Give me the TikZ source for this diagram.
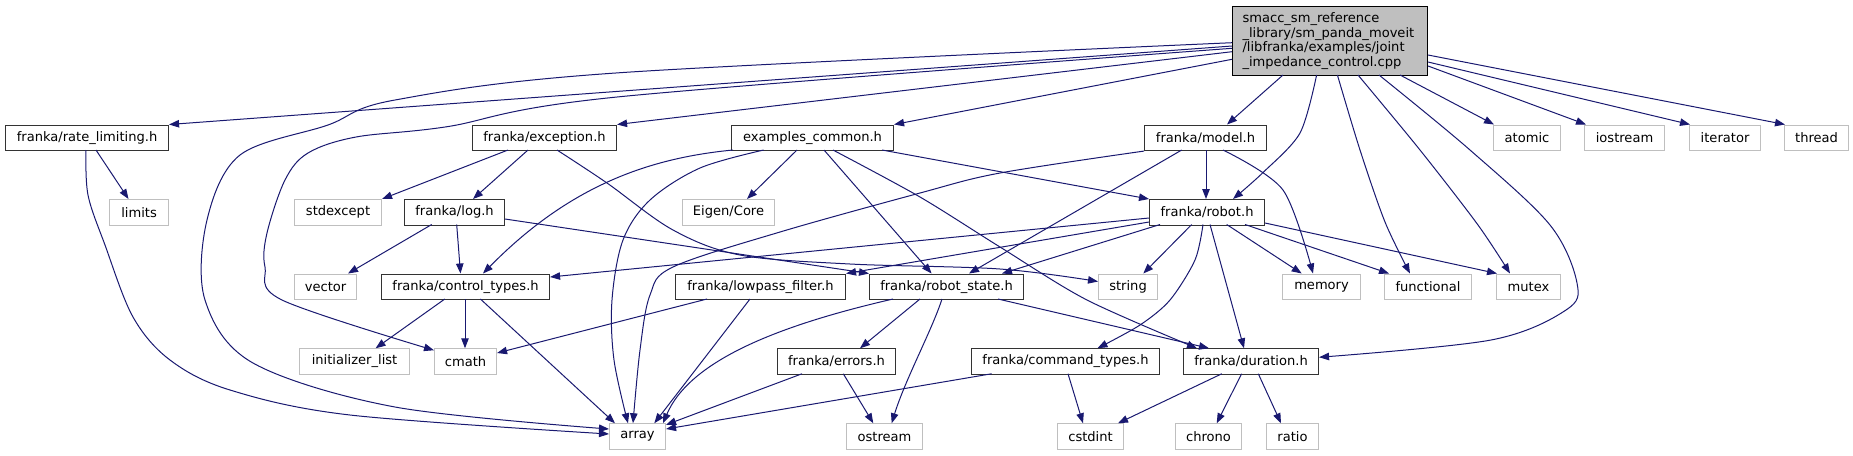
\documentclass[tikz,border=0pt]{standalone}
\usepackage{fontspec}
\setmainfont{DejaVu Sans}
\usetikzlibrary{arrows.meta,calc}
\definecolor{edgeblue}{HTML}{191970}
\definecolor{sysgray}{HTML}{BFBFBF}
\definecolor{docblk}{HTML}{333333}
\definecolor{mainfill}{HTML}{BFBFBF}
\begin{document}
\begin{tikzpicture}[x=0.75pt,y=-0.75pt,
  box/.style={anchor=north west, inner sep=0pt, minimum height=19.125pt, line width=0.8pt,
    font=\fontsize{9.8}{11}\selectfont, text=black},
  doc/.style={box, draw=docblk, fill=white},
  sys/.style={box, draw=sysgray, fill=white},
  bw/.style={minimum width=#1*0.75pt},
  mainnode/.style={anchor=north west, draw=black, fill=mainfill, line width=0.8pt,
    minimum width=146.25pt, minimum height=51.75pt, text width=131.25pt,
    inner xsep=7.5pt, inner ysep=0pt, align=left, font=\fontsize{9.8}{11.1}\selectfont},
  dep/.style={draw=edgeblue, line width=0.75pt, -{Triangle[length=7.5pt,width=5.6pt]}}
]
\useasboundingbox (0,0) rectangle (1853,455);

% ---------- nodes ----------
\node[mainnode] (T) at (1232,6) {smacc\_sm\_reference\\ \_library/sm\_panda\_moveit\\/libfranka/examples/joint\\ \_impedance\_control.cpp};

\node[doc,bw=163] (rate) at (5,124.5) {franka/rate\_limiting.h};
\node[doc,bw=144] (exc) at (472,124.5) {franka/exception.h};
\node[doc,bw=162] (ec) at (731,124.5) {examples\_common.h};
\node[doc,bw=122] (model) at (1144,124.5) {franka/model.h};
\node[sys,bw=67] (atomic) at (1493,124.5) {atomic};
\node[sys,bw=80] (iostream) at (1584,124.5) {iostream};
\node[sys,bw=71] (iterator) at (1689,124.5) {iterator};
\node[sys,bw=64] (thread) at (1784,124.5) {thread};

\node[sys,bw=59] (limits) at (109,199) {limits};
\node[sys,bw=87] (stdexcept) at (294,199) {stdexcept};
\node[doc,bw=100] (log) at (404,199) {franka/log.h};
\node[sys,bw=92] (eigen) at (682,199) {Eigen/Core};
\node[doc,bw=115] (robot) at (1149,199) {franka/robot.h};

\node[sys,bw=62] (vector) at (294,273.5) {vector};
\node[doc,bw=168] (ctypes) at (381,273.5) {franka/control\_types.h};
\node[doc,bw=170] (lowpass) at (675,273.5) {franka/lowpass\_filter.h};
\node[doc,bw=154] (rstate) at (869,273.5) {franka/robot\_state.h};
\node[sys,bw=59] (string) at (1098,273.5) {string};
\node[sys,bw=78] (memory) at (1282,273.5) {memory};
\node[sys,bw=87] (functional) at (1384,273.5) {functional};
\node[sys,bw=64] (mutex) at (1496,273.5) {mutex};

\node[sys,bw=110] (initlist) at (299,348.25) {initializer\_list};
\node[sys,bw=62] (cmath) at (434,348.25) {cmath};
\node[doc,bw=118] (errors) at (777,348.25) {franka/errors.h};
\node[doc,bw=188] (cmdtypes) at (971,348.25) {franka/command\_types.h};
\node[doc,bw=135] (duration) at (1183,348.25) {franka/duration.h};

\node[sys,bw=56] (array) at (609,423.25) {array};
\node[sys,bw=76] (ostream) at (846,423.25) {ostream};
\node[sys,bw=66] (cstdint) at (1057,423.25) {cstdint};
\node[sys,bw=66] (chrono) at (1175,423.25) {chrono};
\node[sys,bw=52] (ratio) at (1266,423.25) {ratio};

% ---------- edges from the main file ----------
\draw[dep] ($(T.north west)+(0,40)$) -- (rate.north east);
\draw[dep] plot[smooth,tension=0.55] coordinates {($(T.north west)+(0,36.7)$) (620,72.7) (395,100) (328,125) (240,155) (207,220) (205,300) (253,363) (395,407) ($(array.north west)+(0,5.75)$)};
\draw[dep] plot[smooth,tension=0.55] coordinates {($(T.north west)+(0,42.3)$) (620,96.7) (447,126.7) (356,137) (308,153) (285,180) (267,233) (265,267) (282,300) ($(cmath.north west)+(0,2)$)};
\draw[dep] ($(T.north west)+(0,45.7)$) -- (exc.north east);
\draw[dep] ($(T.north west)+(0,53.3)$) -- (ec.north east);
\draw[dep] ($(T.north west)+(51,69)$) -- ($(model.north west)+(83,0)$);
\draw[dep] plot[smooth] coordinates {($(T.north west)+(84.6,69)$) (1300,133) (1262.5,173) ($(robot.north west)+(84,0)$)};
\draw[dep] plot[smooth] coordinates {($(T.north west)+(105.4,69)$) (1360,150) (1385,222) ($(functional.north west)+(26,0)$)};
\draw[dep] plot[smooth] coordinates {($(T.north west)+(126,69)$) (1420,150) (1478,225) ($(mutex.north west)+(14,0)$)};
\draw[dep] plot[smooth,tension=0.55] coordinates {($(T.north west)+(147,69)$) (1470,150) (1550,225) (1577,283) (1566,310) (1491,340) ($(duration.north east)+(0,9)$)};
\draw[dep] ($(T.north west)+(168,69)$) -- ($(atomic.north west)+(1,0)$);
\draw[dep] ($(T.north east)+(0,60)$) -- ($(iostream.north west)+(2,0)$);
\draw[dep] ($(T.north east)+(0,56)$) -- ($(iterator.north west)+(1,0)$);
\draw[dep] ($(T.north east)+(0,49)$) -- ($(thread.north west)+(1,0)$);

% ---------- rate_limiting ----------
\draw[dep] ($(rate.north west)+(91,25.5)$) -- ($(limits.north west)+(19.5,0)$);
\draw[dep] plot[smooth,tension=0.55] coordinates {($(rate.north west)+(81,25.5)$) (88,195) (105,245) (133,317) (170,360) (230,390) (350,415) ($(array.north west)+(0,10.75)$)};

% ---------- exception ----------
\draw[dep] ($(exc.north west)+(36,25.5)$) -- (stdexcept.north east);
\draw[dep] ($(exc.north west)+(56,25.5)$) -- ($(log.north west)+(69,0)$);
\draw[dep] plot[smooth,tension=0.55] coordinates {($(exc.north west)+(85,25.5)$) (607,183) (673,230) (740,255) (850,264) (1000,269) ($(string.north west)+(0,8)$)};

% ---------- log ----------
\draw[dep] ($(log.north east)+(0,20)$) -- (rstate.north west);
\draw[dep] ($(log.north west)+(27.7,25.5)$) -- ($(vector.north west)+(54,0)$);
\draw[dep] ($(log.north west)+(52.7,25.5)$) -- ($(ctypes.north west)+(79.5,0)$);

% ---------- examples_common ----------
\draw[dep] ($(ec.north west)+(2,25.5)$) .. controls (650,158) and (570,185) .. ($(ctypes.north west)+(102,0)$);
\draw[dep] plot[smooth,tension=0.55] coordinates {($(ec.north west)+(32.7,25.5)$) (700,168) (650,200) (623,240) (612,300) (614,360) ($(array.north west)+(19,0)$)};
\draw[dep] ($(ec.north west)+(66,25.5)$) -- ($(eigen.north west)+(65,0)$);
\draw[dep] ($(ec.north west)+(93,25.5)$) -- ($(rstate.north west)+(62.6,0)$);
\draw[dep] plot[smooth,tension=0.5] coordinates {($(ec.north west)+(102,25.5)$) (920,197) (1000,247) (1087,300) ($(duration.north west)+(14,0)$)};
\draw[dep] ($(ec.north west)+(151,25.5)$) -- (robot.north west);

% ---------- model ----------
\draw[dep] ($(model.north west)+(62,25.5)$) -- ($(robot.north west)+(57,0)$);
\draw[dep] plot[smooth,tension=0.55] coordinates {(model.south west) (1000,173) (920,193) (780,232) (673,267) (650,295) (640,350) ($(array.north west)+(24,0)$)};
\draw[dep] ($(model.north west)+(37.7,25.5)$) -- ($(rstate.north west)+(100,0)$);
\draw[dep] plot[smooth] coordinates {($(model.north west)+(79,25.5)$) (1283,190) ($(memory.north west)+(31,0)$)};

% ---------- robot ----------
\draw[dep] ($(robot.north west)+(0,19)$) -- ($(ctypes.north east)+(0,3.5)$);
\draw[dep] ($(robot.north west)+(0,23)$) -- (lowpass.north east);
\draw[dep] ($(robot.north west)+(11,25.5)$) -- ($(rstate.north west)+(133,0)$);
\draw[dep] ($(robot.north west)+(42.7,25.5)$) -- ($(string.north west)+(45.3,0)$);
\draw[dep] plot[smooth] coordinates {($(robot.north west)+(54,25.5)$) (1195,260) (1170,300) (1140,325) ($(cmdtypes.north west)+(126.5,0)$)};
\draw[dep] ($(robot.north west)+(61,25.5)$) -- ($(duration.north west)+(61,0)$);
\draw[dep] ($(robot.north west)+(77.7,25.5)$) -- ($(memory.north west)+(19.7,0)$);
\draw[dep] ($(robot.north west)+(96,25.5)$) -- ($(functional.north west)+(5,0)$);
\draw[dep] ($(robot.north east)+(0,24)$) -- ($(mutex.north west)+(1,0)$);

% ---------- robot_state ----------
\draw[dep] ($(rstate.north west)+(24,25.5)$) .. controls (780,325) and (690,360) .. ($(array.north west)+(54,0)$);
\draw[dep] ($(rstate.north west)+(51,25.5)$) -- ($(errors.north west)+(83,0)$);
\draw[dep] ($(rstate.north west)+(73,25.5)$) .. controls (932,330) and (905,380) .. ($(ostream.north west)+(45.7,0)$);
\draw[dep] ($(rstate.north west)+(129,25.5)$) -- ($(duration.north west)+(26,0)$);

% ---------- lowpass ----------
\draw[dep] ($(lowpass.north west)+(32,25.5)$) -- ($(cmath.north east)+(0,4.75)$);
\draw[dep] ($(lowpass.north west)+(75,25.5)$) -- ($(array.north west)+(45.3,0)$);

% ---------- control_types ----------
\draw[dep] ($(ctypes.north west)+(63.8,25.5)$) -- ($(initlist.north west)+(76.6,0)$);
\draw[dep] ($(ctypes.north west)+(84,25.5)$) -- ($(cmath.north west)+(31,0)$);
\draw[dep] ($(ctypes.north west)+(99.4,25.5)$) -- ($(array.north west)+(6,0)$);

% ---------- errors ----------
\draw[dep] ($(errors.north west)+(25,25.5)$) -- ($(array.north east)+(0,1.5)$);
\draw[dep] ($(errors.north west)+(66.3,25.5)$) -- ($(ostream.north west)+(27.3,0)$);

% ---------- command_types ----------
\draw[dep] ($(cmdtypes.north west)+(20.7,25.5)$) -- ($(array.north east)+(0,5.75)$);
\draw[dep] ($(cmdtypes.north west)+(97,25.5)$) -- ($(cstdint.north west)+(26,0)$);

% ---------- duration ----------
\draw[dep] ($(duration.north west)+(38.8,25.5)$) -- ($(cstdint.north west)+(61,0)$);
\draw[dep] ($(duration.north west)+(58.6,25.5)$) -- ($(chrono.north west)+(41.7,0)$);
\draw[dep] ($(duration.north west)+(75.3,25.5)$) -- ($(ratio.north west)+(15,0)$);
\end{tikzpicture}
\end{document}
